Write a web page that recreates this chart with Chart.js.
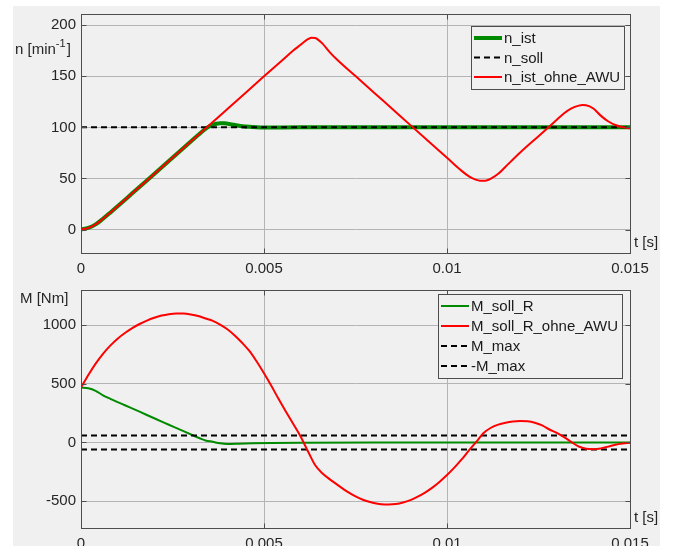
<!DOCTYPE html>
<html>
<head>
<meta charset="utf-8">
<script src="https://cdn.jsdelivr.net/npm/chart.js@4.4.1/dist/chart.umd.min.js"></script>
<style>
  html, body { margin: 0; padding: 0; background: #ffffff; overflow: hidden; }
  #figure { position: absolute; left: 13px; top: 6px; width: 647px; height: 560px; background: #f0f0f0; }
  canvas { position: absolute; left: 0; }
  #speedChart { top: 0; }
  #torqueChart { top: 276px; }
</style>
</head>
<body>
<div id="figure"></div>
<canvas id="speedChart" width="673" height="280"></canvas>
<canvas id="torqueChart" width="673" height="280"></canvas>
<script>
// Time axis (seconds) and tick labels shared by both plots
const xTicks = [0, 0.005, 0.01, 0.015];
const xTickLabels = ["0", "0.005", "0.01", "0.015"];

// Speed plot
const nTicks = [0, 50, 100, 150, 200];
const tIst = [0, 0.0002, 0.0004, 0.0006, 0.0008, 0.001, 0.0014, 0.0018, 0.0022, 0.0026, 0.003, 0.0032, 0.0034, 0.0035, 0.0036, 0.0037, 0.0038, 0.0039, 0.004, 0.0042, 0.0044, 0.0046, 0.0048, 0.005, 0.006, 0.008, 0.01, 0.012, 0.015];
const nIst = [0, 1.5, 5, 10.5, 16.5, 22.7, 35.4, 48.1, 60.7, 73.5, 86.2, 92.5, 98.5, 100.8, 102.5, 103.5, 104, 104, 103.6, 102.3, 101.2, 100.5, 100.1, 99.9, 100, 100, 100, 100, 100];
const tSoll = [0, 0.015];
const nSoll = [100, 100];
const tOhne = [0, 0.0002, 0.0004, 0.0006, 0.0008, 0.001, 0.0014, 0.0018, 0.0022, 0.0026, 0.003, 0.0035, 0.004, 0.0045, 0.005, 0.0055, 0.0058, 0.006, 0.0061, 0.0062, 0.0063, 0.0064, 0.0065, 0.0066, 0.0068, 0.007, 0.0075, 0.008, 0.0085, 0.009, 0.0095, 0.01, 0.0104, 0.0106, 0.0107, 0.0108, 0.0109, 0.011, 0.0111, 0.0112, 0.0114, 0.0116, 0.012, 0.0125, 0.013, 0.0132, 0.0134, 0.0136, 0.0137, 0.0138, 0.014, 0.0142, 0.0144, 0.0146, 0.0148, 0.015];
const nOhne = [0, 1.5, 5, 10.5, 16.5, 22.7, 35.4, 48.1, 60.7, 73.5, 86.2, 102, 118, 134, 150, 165.7, 175.2, 180.8, 183.8, 186.3, 187.8, 187.6, 185.2, 182, 173.5, 166.2, 150.2, 134.2, 118.2, 102.2, 86.2, 70.2, 57.4, 52, 50, 48.6, 47.8, 47.7, 48.3, 49.8, 54.5, 61.5, 75.4, 91.4, 107.4, 113.8, 118.6, 121.3, 121.9, 121.7, 118.5, 111.5, 106, 102.3, 100.2, 99.2];

// Torque plot
const mTicks = [-500, 0, 500, 1000];
const tSollR = [0, 0.0002, 0.0004, 0.0006, 0.0008, 0.0012, 0.0016, 0.002, 0.0024, 0.0028, 0.0031, 0.0033, 0.0034, 0.0036, 0.0038, 0.004, 0.0043, 0.0047, 0.0052, 0.006, 0.008, 0.01, 0.012, 0.014, 0.015];
const mSollR = [468, 462, 440, 402, 372, 317, 262, 206, 151, 96, 55, 28, 17, 5, -8, -13, -11, -7, -4, -2, -1, -1, -1, -1, 0];
const tSollROhne = [0, 0.0002, 0.0004, 0.0006, 0.0008, 0.001, 0.0012, 0.0014, 0.0016, 0.0018, 0.002, 0.0022, 0.0024, 0.0026, 0.0028, 0.003, 0.0032, 0.0034, 0.0036, 0.0038, 0.004, 0.0042, 0.0044, 0.0046, 0.0048, 0.005, 0.0052, 0.0054, 0.0056, 0.0058, 0.006, 0.0062, 0.0064, 0.0066, 0.0068, 0.007, 0.0072, 0.0074, 0.0076, 0.0078, 0.008, 0.0082, 0.0084, 0.0086, 0.0088, 0.009, 0.0092, 0.0094, 0.0096, 0.0098, 0.01, 0.0102, 0.0104, 0.0106, 0.0108, 0.011, 0.0112, 0.0114, 0.0116, 0.0118, 0.012, 0.0122, 0.0124, 0.0126, 0.0128, 0.013, 0.0132, 0.0134, 0.0136, 0.0138, 0.014, 0.0142, 0.0144, 0.0146, 0.0148, 0.015];
const mSollROhne = [468, 575, 672, 756, 826, 885, 933, 975, 1010, 1039, 1063, 1082, 1094, 1100, 1099, 1091, 1078, 1057, 1037, 1005, 965, 912, 850, 780, 690, 590, 483, 370, 262, 157, 50, -75, -195, -265, -315, -360, -405, -443, -475, -500, -517, -527, -530, -526, -513, -492, -463, -428, -386, -335, -278, -215, -145, -68, 5, 80, 125, 152, 168, 178, 182, 180, 168, 145, 110, 82, 45, 3, -35, -54, -58, -52, -36, -20, -10, -3];
const tMax = [0, 0.015];
const mMax = [60, 60];
const mMaxNeg = [-60, -60];

const GREEN = "#008a00";
const RED = "#ff0000";
const TEXT = "#262626";
const FRAME = "#4d4d4d";
const GRID = "#b4b4b4";
const BG = "#f0f0f0";
const FONT = "'Liberation Sans', Arial, sans-serif";

function pts(ts, ys) {
  return ts.map((t, i) => ({ x: t, y: ys[i] }));
}

// Axes frame with inward ticks, axis titles and the boxed legend
const framePlugin = {
  id: "frame",
  afterDraw(chart, args, opts) {
    const ctx = chart.ctx;
    const a = chart.chartArea;
    const L = Math.round(a.left) + 0.5, T = Math.round(a.top) + 0.5;
    const R = Math.round(a.right) + 0.5, B = Math.round(a.bottom) + 0.5;
    ctx.save();
    ctx.strokeStyle = FRAME;
    ctx.lineWidth = 1;
    ctx.strokeRect(L, T, R - L, B - T);
    ctx.beginPath();
    chart.scales.y.ticks.forEach((tk) => {
      const py = Math.round(chart.scales.y.getPixelForValue(tk.value)) + 0.5;
      ctx.moveTo(L, py); ctx.lineTo(L + 5, py);
      ctx.moveTo(R, py); ctx.lineTo(R - 5, py);
    });
    chart.scales.x.ticks.forEach((tk) => {
      const px = Math.round(chart.scales.x.getPixelForValue(tk.value)) + 0.5;
      ctx.moveTo(px, B); ctx.lineTo(px, B - 5);
      ctx.moveTo(px, T); ctx.lineTo(px, T + 5);
    });
    ctx.stroke();

    ctx.fillStyle = TEXT;
    ctx.font = "15px " + FONT;
    ctx.textBaseline = "middle";
    ctx.textAlign = "left";
    ctx.fillText("t [s]", a.right + 4, a.bottom - 10);

    // y title, with optional superscript
    let x = opts.yTitle.x;
    const y = opts.yTitle.y;
    opts.yTitle.parts.forEach((p) => {
      ctx.font = (p.sup ? "11px " : "15px ") + FONT;
      ctx.fillText(p.text, x, p.sup ? y - 6 : y);
      x += ctx.measureText(p.text).width + (p.sup ? 1 : 0);
    });

    // legend
    const lg = opts.legend;
    ctx.font = "15px " + FONT;
    const items = chart.data.datasets;
    const textW = Math.max(...items.map((d) => ctx.measureText(d.label).width));
    const w = Math.round(33 + textW + 4);
    const h = Math.round(lg.rowH * items.length + 4);
    const left = lg.right - w;
    ctx.fillStyle = BG;
    ctx.fillRect(left, lg.top, w, h);
    ctx.strokeStyle = FRAME;
    ctx.strokeRect(left + 0.5, lg.top + 0.5, w, h);
    items.forEach((d, i) => {
      const ry = lg.top + 12 + i * lg.rowH;
      ctx.beginPath();
      ctx.strokeStyle = d.borderColor;
      ctx.lineWidth = d.borderWidth;
      ctx.setLineDash(d.borderDash || []);
      ctx.moveTo(left + 3, ry);
      ctx.lineTo(left + 31, ry);
      ctx.stroke();
      ctx.setLineDash([]);
      ctx.fillStyle = "#1a1a1a";
      ctx.fillText(d.label, left + 33, ry + 1);
    });
    ctx.restore();
  },
};

function axisOptions(yMin, yMax, yTicks, xHeight) {
  return {
    x: {
      type: "linear",
      min: 0,
      max: 0.015,
      afterBuildTicks: (s) => { s.ticks = xTicks.map((v) => ({ value: v })); },
      afterFit: (s) => { s.height = xHeight; },
      ticks: {
        callback: (v, i) => xTickLabels[i],
        color: TEXT,
        font: { family: FONT, size: 15 },
        padding: 7,
        maxRotation: 0,
      },
      grid: { color: GRID, drawTicks: false },
      border: { display: false },
    },
    y: {
      min: yMin,
      max: yMax,
      afterBuildTicks: (s) => { s.ticks = yTicks.map((v) => ({ value: v })); },
      afterFit: (s) => { s.width = 81; },
      ticks: {
        callback: (v) => String(v),
        color: TEXT,
        font: { family: FONT, size: 15 },
        padding: 5,
      },
      grid: { color: GRID, drawTicks: false },
      border: { display: false },
    },
  };
}

const common = {
  animation: false,
  responsive: false,
  devicePixelRatio: 1,
  layout: { padding: { left: 0, top: 11, right: 43, bottom: 0 } },
  elements: { point: { radius: 0 }, line: { cubicInterpolationMode: "monotone" } },
  events: [],
};

new Chart(document.getElementById("speedChart"), {
  type: "line",
  data: {
    datasets: [
      { label: "n_ist", data: pts(tIst, nIst), borderColor: GREEN, borderWidth: 4, order: 3 },
      { label: "n_soll", data: pts(tSoll, nSoll), borderColor: "#000000", borderWidth: 2, borderDash: [6, 4], order: 2 },
      { label: "n_ist_ohne_AWU", data: pts(tOhne, nOhne), borderColor: RED, borderWidth: 2, order: 1 },
    ],
  },
  options: {
    ...common,
    scales: axisOptions(-23, 211, nTicks, 27),
    plugins: {
      legend: { display: false },
      tooltip: { enabled: false },
      frame: {
        yTitle: { x: 15, y: 50, parts: [{ text: "n [min" }, { text: "-1", sup: true }, { text: "]" }] },
        legend: { right: 624, top: 26, rowH: 19.5 },
      },
    },
  },
  plugins: [framePlugin],
});

new Chart(document.getElementById("torqueChart"), {
  type: "line",
  data: {
    datasets: [
      { label: "M_soll_R", data: pts(tSollR, mSollR), borderColor: GREEN, borderWidth: 2, order: 4 },
      { label: "M_soll_R_ohne_AWU", data: pts(tSollROhne, mSollROhne), borderColor: RED, borderWidth: 2, order: 1 },
      { label: "M_max", data: pts(tMax, mMax), borderColor: "#000000", borderWidth: 2, borderDash: [6, 4], order: 2 },
      { label: "-M_max", data: pts(tMax, mMaxNeg), borderColor: "#000000", borderWidth: 2, borderDash: [6, 4], order: 3 },
    ],
  },
  options: {
    ...common,
    scales: axisOptions(-730, 1300, mTicks, 28),
    plugins: {
      legend: { display: false },
      tooltip: { enabled: false },
      frame: {
        yTitle: { x: 20, y: 23, parts: [{ text: "M [Nm]" }] },
        legend: { right: 622, top: 18, rowH: 20 },
      },
    },
  },
  plugins: [framePlugin],
});
</script>
</body>
</html>
